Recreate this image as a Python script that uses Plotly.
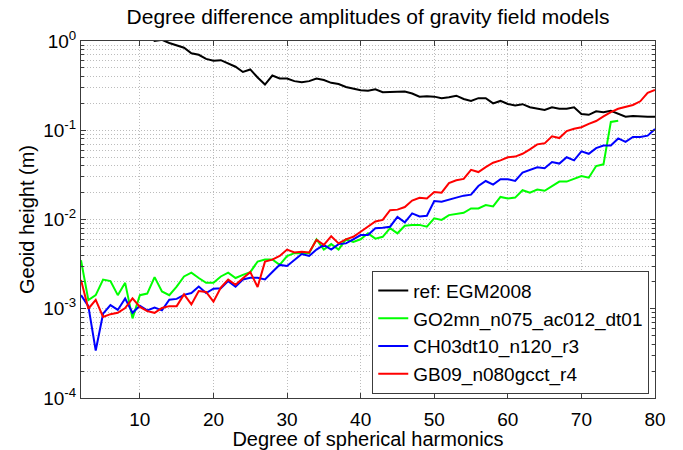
import plotly.graph_objects as go

# Spherical-harmonic degrees
deg_ref = list(range(2, 81))
deg_go = list(range(2, 76))
deg_ch = list(range(2, 81))
deg_gb = list(range(2, 81))

# Degree difference amplitudes (geoid height, m)
ref_egm2008 = [
    9.0, 6.5, 4.8, 3.9, 3.1, 2.5, 2.0, 1.7, 1.45, 1.2,
    1.0, 1.03, 0.95, 0.89, 0.84, 0.73, 0.70, 0.63, 0.60, 0.61,
    0.56, 0.515, 0.45, 0.48, 0.39, 0.325, 0.41, 0.38, 0.38, 0.355,
    0.345, 0.355, 0.38, 0.365, 0.34, 0.33, 0.305, 0.295, 0.28, 0.277,
    0.287, 0.267, 0.267, 0.272, 0.272, 0.258, 0.238, 0.24, 0.238, 0.229,
    0.234, 0.244, 0.224, 0.213, 0.229, 0.229, 0.20, 0.213, 0.197, 0.19,
    0.196, 0.181, 0.174, 0.169, 0.181, 0.174, 0.174, 0.181, 0.152, 0.149,
    0.163, 0.159, 0.165, 0.152, 0.142, 0.144, 0.142, 0.142, 0.142,
]

go2mn = [
    0.0035, 0.00125, 0.00142, 0.00212, 0.00204, 0.00142, 0.00195, 0.00078, 0.00142, 0.00148,
    0.00226, 0.00156, 0.00142, 0.00177, 0.0023, 0.00254, 0.00221, 0.00195, 0.00195, 0.0023,
    0.00254, 0.00221, 0.0024, 0.00257, 0.00338, 0.00356, 0.00356, 0.0031, 0.0039, 0.0042,
    0.0042, 0.0042, 0.0060, 0.0046, 0.0053, 0.0046, 0.0060, 0.0056, 0.0060, 0.0070,
    0.0061, 0.0064, 0.0080, 0.0070, 0.0085, 0.0087, 0.0087, 0.0083, 0.0103, 0.0099,
    0.0112, 0.0115, 0.0119, 0.0133, 0.0133, 0.0145, 0.0140, 0.0179, 0.0172, 0.0176,
    0.0213, 0.0200, 0.0217, 0.0210, 0.0238, 0.0266, 0.0266, 0.0285, 0.0307, 0.0294,
    0.0397, 0.0415, 0.124, 0.128,
]

ch03 = [
    0.00142, 0.00107, 0.00034, 0.00088, 0.0011, 0.00097, 0.0013, 0.0009, 0.00108, 0.00096,
    0.00103, 0.00096, 0.00126, 0.00129, 0.00143, 0.0015, 0.00177, 0.0015, 0.00168, 0.0017,
    0.00204, 0.00177, 0.00213, 0.00222, 0.00222, 0.00213, 0.00258, 0.0031, 0.00302, 0.00356,
    0.0041, 0.0039, 0.0046, 0.0052, 0.0046, 0.0053, 0.0054, 0.0060, 0.0067, 0.0067,
    0.0080, 0.0081, 0.0083, 0.0107, 0.0093, 0.0117, 0.0108, 0.0110, 0.0161, 0.0158,
    0.0168, 0.0176, 0.0185, 0.0190, 0.0237, 0.0270, 0.0246, 0.0283, 0.0283, 0.0270,
    0.0335, 0.0357, 0.0385, 0.0376, 0.0441, 0.0423, 0.0498, 0.0460, 0.058, 0.0545,
    0.063, 0.0675, 0.0675, 0.081, 0.074, 0.084, 0.084, 0.087, 0.103,
]

gb09 = [
    0.0021, 0.0010, 0.00126, 0.00081, 0.00087, 0.0009, 0.00102, 0.00131, 0.00105, 0.00094,
    0.0009, 0.00102, 0.00107, 0.00107, 0.00145, 0.00112, 0.00158, 0.00154, 0.0012, 0.00173,
    0.00212, 0.00186, 0.0022, 0.00257, 0.00175, 0.00337, 0.00355, 0.0039, 0.0046, 0.00427,
    0.00435, 0.00427, 0.0059, 0.0052, 0.0065, 0.0054, 0.0060, 0.0064, 0.0073, 0.0083,
    0.0095, 0.0099, 0.0127, 0.0129, 0.0138, 0.0163, 0.0175, 0.0172, 0.0203, 0.0200,
    0.0256, 0.0275, 0.0285, 0.036, 0.034, 0.0387, 0.0433, 0.046, 0.0497, 0.0507,
    0.0545, 0.061, 0.0695, 0.0713, 0.0855, 0.0818, 0.098, 0.104, 0.108, 0.118,
    0.127, 0.143, 0.16, 0.174, 0.181, 0.192, 0.211, 0.263, 0.283,
]

series = [
    ("ref: EGM2008", deg_ref, ref_egm2008, "#000000"),
    ("GO2mn_n075_ac012_dt01", deg_go, go2mn, "#00ff00"),
    ("CH03dt10_n120_r3", deg_ch, ch03, "#0000ff"),
    ("GB09_n080gcct_r4", deg_gb, gb09, "#ff0000"),
]

x_ticks = [10, 20, 30, 40, 50, 60, 70, 80]
y_ticks = [1e-4, 1e-3, 1e-2, 1e-1, 1e0]
y_ticktext = ["10<sup>-4</sup>", "10<sup>-3</sup>", "10<sup>-2</sup>",
              "10<sup>-1</sup>", "10<sup>0</sup>"]
y_minor = [m * 10.0 ** e for e in range(-4, 0) for m in range(2, 10)]

FONT = "Liberation Sans, Arial, Helvetica, sans-serif"
GRID = "#bcbcbc"
GRID_DASH = "1px,2px"
AXIS = "#3c3c3c"

fig = go.Figure()
for name, x, y, color in series:
    fig.add_trace(go.Scatter(x=x, y=y, mode="lines", name=name,
                             line=dict(color=color, width=2)))

fig.update_layout(
    width=683, height=450,
    margin=dict(l=81, r=28, t=41, b=52),
    paper_bgcolor="white", plot_bgcolor="white",
    font=dict(family=FONT, size=19, color="black"),
    title=dict(text="Degree difference amplitudes of gravity field models",
               x=(81 + 655) / 2 / 683, xanchor="center",
               y=1 - 17 / 450, yanchor="middle", yref="container",
               font=dict(size=21)),
    showlegend=True,
    legend=dict(x=0.99, xanchor="right", y=0.012, yanchor="bottom",
                bgcolor="white", bordercolor=AXIS, borderwidth=1,
                font=dict(size=19), itemwidth=30, tracegroupgap=0,
                traceorder="normal"),
)

fig.update_xaxes(
    range=[2, 80], tickmode="array", tickvals=x_ticks,
    showgrid=True, gridcolor=GRID, griddash=GRID_DASH, gridwidth=1,
    ticks="inside", ticklen=5, tickcolor=AXIS, ticklabelstandoff=4,
    tickfont=dict(size=19),
    showline=True, linecolor=AXIS, linewidth=1, mirror="allticks",
    zeroline=False, automargin=False,
    title=dict(text="Degree of spherical harmonics", standoff=2,
               font=dict(size=20)),
)

fig.update_yaxes(
    type="log", range=[-4, 0], tickmode="array",
    tickvals=y_ticks, ticktext=y_ticktext,
    showgrid=True, gridcolor=GRID, griddash=GRID_DASH, gridwidth=1,
    ticks="inside", ticklen=5, tickcolor=AXIS,
    showline=True, linecolor=AXIS, linewidth=1, mirror="allticks",
    zeroline=False, automargin=False,
    minor=dict(tickmode="array", tickvals=y_minor, ticks="inside",
               ticklen=3, tickcolor=AXIS, showgrid=True,
               gridcolor=GRID, griddash=GRID_DASH, gridwidth=1),
    title=dict(text="Geoid height (m)", standoff=3, font=dict(size=20)),
)

fig.write_html("out.html")
